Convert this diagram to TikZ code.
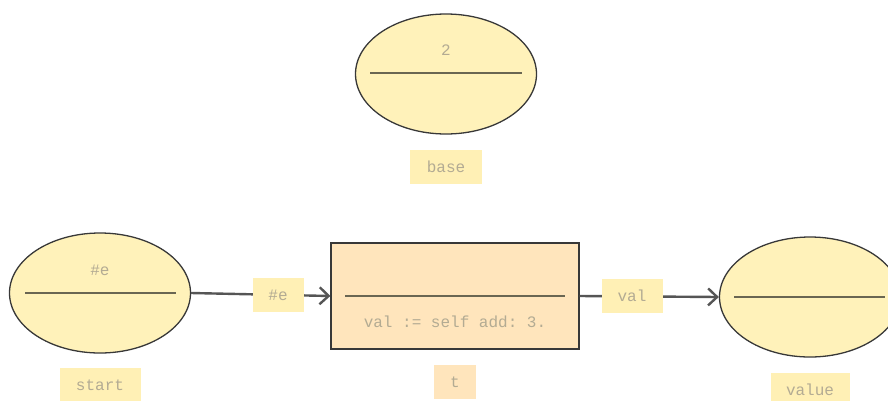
\documentclass[tikz,border=0pt]{standalone}
\usepackage{fontspec}
\setmonofont{Liberation Mono}
\usetikzlibrary{shapes.geometric,arrows.meta}

\definecolor{objfill}{HTML}{FFF2BA}
\definecolor{taskfill}{HTML}{FFE5BC}
\definecolor{tagfill}{HTML}{FFF0B5}
\definecolor{outline}{HTML}{383838}
\definecolor{divider}{HTML}{6A6652}
\definecolor{wire}{HTML}{555555}
\definecolor{ink}{HTML}{B3AB93}

\tikzset{
  objnode/.style={ellipse, draw=outline, line width=1.3pt, fill=objfill,
    minimum width=181pt, minimum height=120pt, inner sep=0pt},
  tasknode/.style={rectangle, draw=outline, line width=1.3pt, fill=taskfill,
    minimum width=248pt, minimum height=106pt, inner sep=0pt},
  divline/.style={draw=divider, line width=2.2pt},
  txt/.style={font=\ttfamily\fontsize{16}{18}\selectfont, text=ink, inner sep=0pt},
  tag/.style={txt, fill=tagfill, minimum height=34pt, inner xsep=12pt},
  tasktag/.style={tag, fill=taskfill},
  wireline/.style={draw=wire, line width=2.4pt,
    -{Straight Barb[length=9pt, width=17pt, line width=2.4pt]}}
}

\begin{document}
\begin{tikzpicture}[x=1pt, y=-1pt]
\useasboundingbox (0,0) rectangle (888,400);

% object: base
\node[objnode] (base) at (446,74) {};
\draw[divline] (370,73) -- (522,73);
\node[txt] (baseval) at (446,50) {2};
\node[tag, minimum width=72pt] (basetag) at (446,167) {base};

% object: start
\node[objnode] (start) at (100,293) {};
\draw[divline] (25,293) -- (176,293);
\node[txt] (startval) at (100,270) {\#e};
\node[tag, minimum width=81pt] (starttag) at (100,385) {start};

% task: t
\node[tasknode] (t) at (455,296) {};
\draw[divline] (345,296) -- (565,296);
\node[txt] (tcode) at (455,322) {val := self add: 3.};
\node[tasktag, minimum width=42pt] (ttag) at (455,382) {t};

% object: value
\node[objnode] (value) at (810,297) {};
\draw[divline] (734,297) -- (885,297);
\node[tag, minimum width=79pt] (valuetag) at (810,390) {value};

% flows
\draw[wireline] (start.east) -- (t.west);
\node[tag, minimum width=51pt] (flowin) at (278,295) {\#e};
\draw[wireline] (t.east) -- (value.west);
\node[tag, minimum width=61pt] (flowout) at (632,296) {val};
\end{tikzpicture}
\end{document}
